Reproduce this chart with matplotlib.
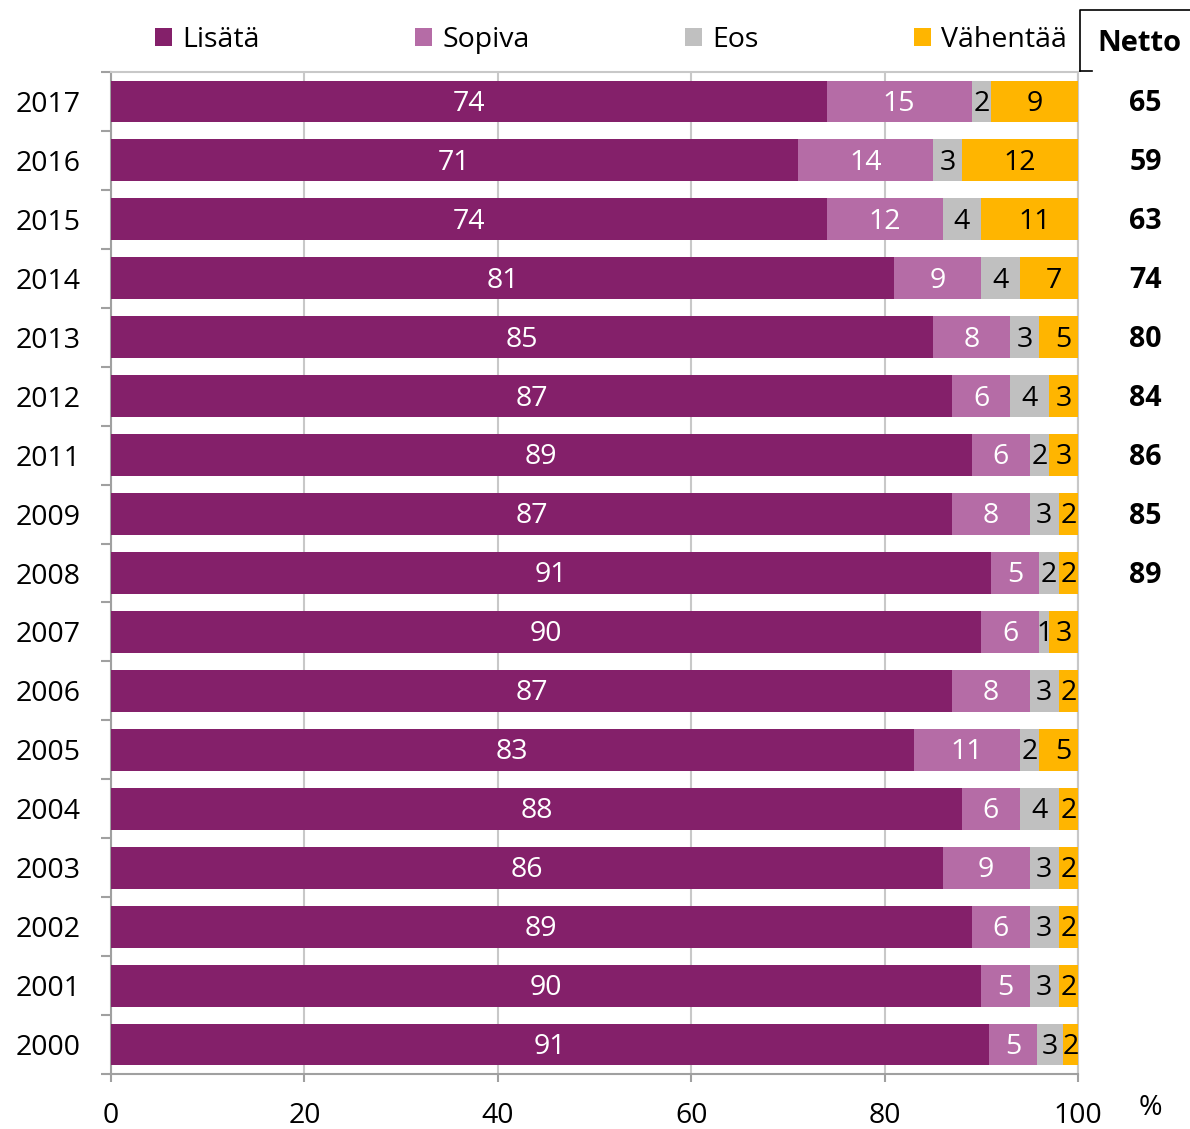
import numpy as np
import matplotlib.pyplot as plt
from matplotlib.lines import Line2D

plt.rcParams['font.family'] = ['Open Sans', 'DejaVu Sans']

years = ['2017', '2016', '2015', '2014', '2013', '2012', '2011', '2009', '2008',
         '2007', '2006', '2005', '2004', '2003', '2002', '2001', '2000']
lisata = [74, 71, 74, 81, 85, 87, 89, 87, 91, 90, 87, 83, 88, 86, 89, 90, 90.8]
sopiva = [15, 14, 12, 9, 8, 6, 6, 8, 5, 6, 8, 11, 6, 9, 6, 5, 5.0]
eos = [2, 3, 4, 4, 3, 4, 2, 3, 2, 1, 3, 2, 4, 3, 3, 3, 2.6]
vahentaa = [9, 12, 11, 7, 5, 3, 3, 2, 2, 3, 2, 5, 2, 2, 2, 2, 1.6]
netto = ['65', '59', '63', '74', '80', '84', '86', '85', '89',
         '', '', '', '', '', '', '', '']

names = ['Lisätä', 'Sopiva', 'Eos', 'Vähentää']
colors = ['#84206A', '#B56CA6', '#C0C0C0', '#FFB500']
txtcol = ['white', 'white', 'black', 'black']
series = [lisata, sopiva, eos, vahentaa]
fs = 20.5

fig = plt.figure(figsize=(11.9, 11.29), dpi=100)
ax = fig.add_axes([111/1190, 1 - 1074/1129, (1078-111)/1190, (1074-72)/1129])

y = np.arange(len(years))
left = np.zeros(len(years))
for vals, name, c, tc in zip(series, names, colors, txtcol):
    vals = np.array(vals, dtype=float)
    ax.barh(y, vals, left=left, height=0.71, color=c, label=name, zorder=3)
    for yi, l, v in zip(y, left, vals):
        ax.text(l + v / 2, yi + 0.04, f'{v:.0f}', ha='center', va='center',
                color=tc, fontsize=fs, zorder=4)
    left = left + vals

ax.set_xlim(0, 100)
ax.set_ylim(len(years) - 0.5, -0.5)
ax.set_xticks(range(0, 101, 20))
ax.set_yticks(y)
ax.set_yticklabels(years)
ax.set_yticks(np.arange(-0.5, len(years)), minor=True)
ax.tick_params(axis='y', which='major', length=0, labelsize=fs, pad=22)
ax.tick_params(axis='y', which='minor', length=7, color='#A0A0A0', width=1.5)
ax.tick_params(axis='x', length=6, color='#A0A0A0', width=1.5, labelsize=fs, pad=14)
ax.grid(axis='x', color='#C8C8C8', linewidth=1.5, zorder=0)
for s in ['left', 'bottom']:
    ax.spines[s].set_color('#A0A0A0')
    ax.spines[s].set_linewidth(1.5)
for s in ['top', 'right']:
    ax.spines[s].set_color('#C8C8C8')
    ax.spines[s].set_linewidth(1.5)

for yi, n in zip(y, netto):
    ax.text(107.0, yi + 0.04, n, ha='center', va='center', fontsize=fs,
            fontweight='bold', clip_on=False)
ax.text(106.4, -0.98, 'Netto', ha='center', va='center', fontsize=21,
        fontweight='bold', clip_on=False)
fig.text(1150/1190, 1 - 1108/1129, '%', ha='center', va='center', fontsize=fs)

# Netto box
fig.add_artist(Line2D([1080/1190, 1080/1190, 1190/1190],
                      [1 - 71/1129, 1 - 10/1129, 1 - 10/1129],
                      color='black', linewidth=1.2))
fig.add_artist(Line2D([1080/1190, 1092/1190], [1 - 71/1129, 1 - 71/1129],
                      color='black', linewidth=1.2))

fig.legend(loc='lower left', bbox_to_anchor=(155/1190, 1 - 54/1129, 912/1190, 0.02),
           ncol=4, mode='expand', frameon=False, fontsize=fs,
           handlelength=0.6, handleheight=0.6, handletextpad=0.35,
           borderaxespad=0, borderpad=0)

fig.savefig('out.png', dpi=100)
